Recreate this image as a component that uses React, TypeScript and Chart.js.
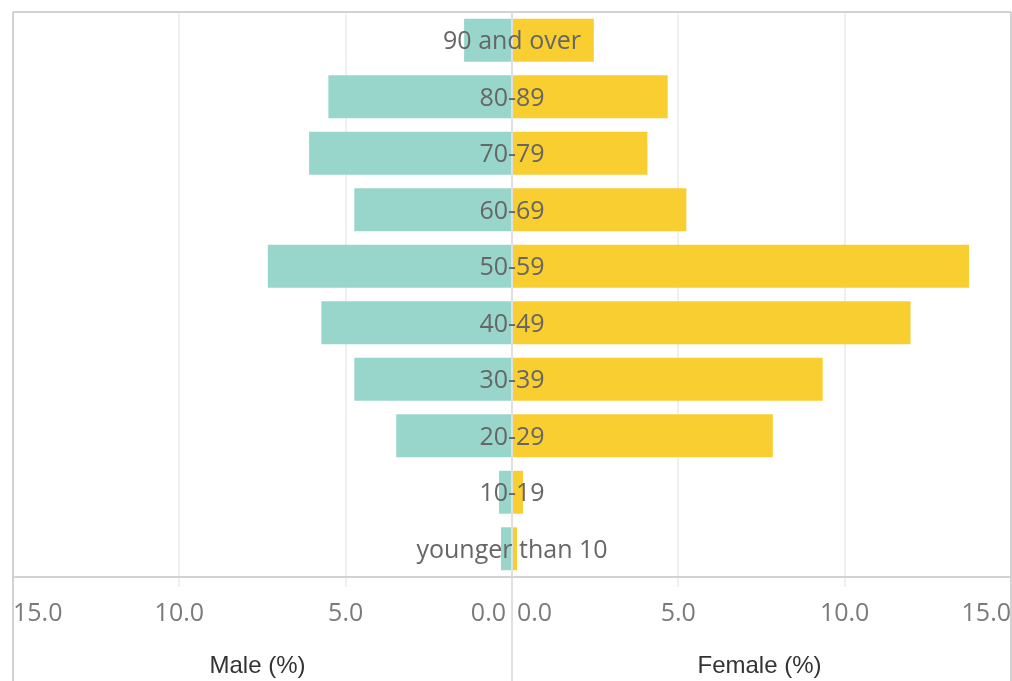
import React, { useEffect, useRef } from "react";
import { Chart, registerables } from "chart.js";

Chart.register(...registerables);

const ageGroups = [
  "90 and over",
  "80-89",
  "70-79",
  "60-69",
  "50-59",
  "40-49",
  "30-39",
  "20-29",
  "10-19",
  "younger than 10",
];
const malePct = [1.44, 5.52, 6.1, 4.74, 7.34, 5.73, 4.74, 3.48, 0.39, 0.33];
const femalePct = [2.46, 4.68, 4.07, 5.24, 13.74, 11.98, 9.34, 7.84, 0.33, 0.15];
const axisMax = 15;
const maleTitle = "Male (%)";
const femaleTitle = "Female (%)";

const MALE_COLOR = "#98d6cc";
const FEMALE_COLOR = "#f9ce30";
const FONT = "'Open Sans', sans-serif";

const framePlugin = {
  id: "pyramidFrame",
  beforeDatasetsDraw(chart: any) {
    const { ctx, chartArea } = chart;
    ctx.save();
    ctx.strokeStyle = "#d2d2d2";
    ctx.lineWidth = 2;
    ctx.beginPath();
    ctx.moveTo(chartArea.left, chartArea.top);
    ctx.lineTo(chartArea.right, chartArea.top);
    ctx.stroke();
    ctx.beginPath();
    ctx.moveTo(chartArea.left, chartArea.top);
    ctx.lineTo(chartArea.left, chart.height);
    ctx.stroke();
    ctx.beginPath();
    ctx.moveTo(chartArea.right, chartArea.top);
    ctx.lineTo(chartArea.right, chart.height);
    ctx.stroke();
    ctx.restore();
  },
  afterDatasetsDraw(chart: any) {
    const { ctx, chartArea, scales } = chart;
    const x0 = scales.x.getPixelForValue(0);
    ctx.save();
    ctx.strokeStyle = "#d6d6d6";
    ctx.lineWidth = 1.5;
    ctx.beginPath();
    ctx.moveTo(x0, chartArea.top);
    ctx.lineTo(x0, chart.height);
    ctx.stroke();

    // category labels centred on the middle line
    ctx.font = `25px ${FONT}`;
    ctx.fillStyle = "#666666";
    ctx.textAlign = "center";
    ctx.textBaseline = "middle";
    ageGroups.forEach((g, i) => {
      const y = scales.y.getPixelForValue(i);
      ctx.fillText(g, x0, y + 2);
    });

    // centre zero tick labels
    const tickY = 614;
    ctx.fillStyle = "#7a7a7a";
    ctx.textAlign = "right";
    ctx.fillText("0.0", x0 - 6, tickY);
    ctx.textAlign = "left";
    ctx.fillText("0.0", x0 + 5, tickY);

    // axis titles
    ctx.font = `24px 'Liberation Sans', Arial, sans-serif`;
    ctx.fillStyle = "#333333";
    ctx.textAlign = "center";
    const leftMid = (chartArea.left + x0) / 2;
    const rightMid = (x0 + chartArea.right) / 2;
    ctx.fillText(maleTitle, leftMid - 5, 666);
    ctx.fillText(femaleTitle, rightMid - 2, 666);
    ctx.restore();
  },
};

export default function App() {
  const canvasRef = useRef<HTMLCanvasElement | null>(null);

  useEffect(() => {
    if (!canvasRef.current) return;
    const chart = new Chart(canvasRef.current, {
      type: "bar",
      data: {
        labels: ageGroups,
        datasets: [
          {
            label: maleTitle,
            data: malePct.map((v) => -v),
            backgroundColor: MALE_COLOR,
            grouped: false,
            categoryPercentage: 1,
            barPercentage: 0.76,
          } as any,
          {
            label: femaleTitle,
            data: femalePct,
            backgroundColor: FEMALE_COLOR,
            grouped: false,
            categoryPercentage: 1,
            barPercentage: 0.76,
          } as any,
        ],
      },
      options: {
        indexAxis: "y",
        animation: false,
        responsive: false,
        maintainAspectRatio: false,
        devicePixelRatio: 1,
        layout: { padding: { left: 13, top: 12, right: 1, bottom: 0 } },
        plugins: {
          legend: { display: false },
          tooltip: { enabled: false },
          title: { display: false },
        },
        scales: {
          x: {
            min: -axisMax,
            max: axisMax,
            afterFit: (scale: any) => {
              scale.height = 104;
              scale.paddingLeft = 0;
              scale.paddingRight = 0;
            },
            border: { display: true, color: "#d2d2d2", width: 2 },
            grid: {
              color: (c: any) =>
                c.tick && (Math.abs(c.tick.value) === axisMax || c.tick.value === 0)
                  ? "rgba(0,0,0,0)"
                  : "#efefef",
              lineWidth: 2,
              tickLength: 10,
            },
            ticks: {
              stepSize: 5,
              align: "inner",
              padding: 12,
              color: "#7a7a7a",
              font: { family: FONT, size: 25 },
              maxRotation: 0,
              autoSkip: false,
              callback: (v: any) => (v === 0 ? "" : Math.abs(Number(v)).toFixed(1)),
            },
          },
          y: {
            display: false,
            grid: { display: false },
          },
        },
      },
      plugins: [framePlugin],
    });
    return () => chart.destroy();
  }, []);

  return (
    <div
      style={{
        position: "fixed",
        left: 0,
        top: 0,
        width: 1012,
        height: 681,
        background: "#ffffff",
      }}
    >
      <canvas ref={canvasRef} width={1012} height={681} style={{ width: 1012, height: 681, display: "block" }} />
    </div>
  );
}
